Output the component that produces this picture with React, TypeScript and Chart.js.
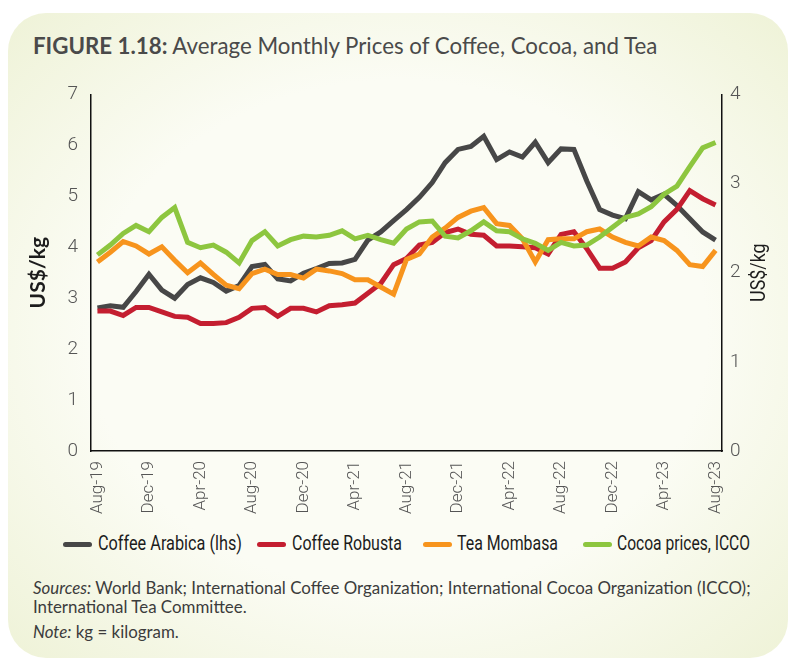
import React, { useEffect, useRef } from "react";
import { Chart, registerables } from "chart.js";

Chart.register(...registerables);

const months = [
  "Aug-19", "Sep-19", "Oct-19", "Nov-19", "Dec-19", "Jan-20", "Feb-20", "Mar-20", "Apr-20", "May-20", "Jun-20", "Jul-20",
  "Aug-20", "Sep-20", "Oct-20", "Nov-20", "Dec-20", "Jan-21", "Feb-21", "Mar-21", "Apr-21", "May-21", "Jun-21", "Jul-21",
  "Aug-21", "Sep-21", "Oct-21", "Nov-21", "Dec-21", "Jan-22", "Feb-22", "Mar-22", "Apr-22", "May-22", "Jun-22", "Jul-22",
  "Aug-22", "Sep-22", "Oct-22", "Nov-22", "Dec-22", "Jan-23", "Feb-23", "Mar-23", "Apr-23", "May-23", "Jun-23", "Jul-23",
  "Aug-23",
];

// Coffee Arabica, left axis (US$/kg)
const arabica = [
  2.81, 2.85, 2.82, 3.13, 3.47, 3.16, 3.0, 3.27, 3.4, 3.31, 3.14, 3.25,
  3.62, 3.66, 3.38, 3.34, 3.49, 3.58, 3.68, 3.69, 3.76, 4.14, 4.3, 4.52,
  4.74, 4.98, 5.27, 5.66, 5.92, 5.98, 6.18, 5.72, 5.87, 5.77, 6.06, 5.66,
  5.93, 5.92, 5.3, 4.74, 4.63, 4.56, 5.09, 4.93, 5.04, 4.82, 4.56, 4.3,
  4.14,
];

// Coffee Robusta, right axis (US$/kg)
const robusta = [
  1.57, 1.57, 1.52, 1.61, 1.61, 1.56, 1.51, 1.5, 1.43, 1.43, 1.44, 1.5,
  1.6, 1.61, 1.51, 1.6, 1.6, 1.56, 1.63, 1.64, 1.66, 1.77, 1.88, 2.09,
  2.16, 2.31, 2.34, 2.45, 2.49, 2.43, 2.42, 2.3, 2.3, 2.29, 2.28, 2.21,
  2.43, 2.46, 2.27, 2.05, 2.05, 2.12, 2.28, 2.36, 2.57, 2.71, 2.92, 2.83,
  2.76,
];

// Tea Mombasa, right axis (US$/kg)
const tea = [
  2.12, 2.23, 2.35, 2.3, 2.21, 2.29, 2.14, 2.0, 2.11, 1.98, 1.86, 1.82,
  1.99, 2.04, 1.98, 1.98, 1.94, 2.04, 2.02, 1.99, 1.92, 1.92, 1.84, 1.76,
  2.15, 2.21, 2.4, 2.5, 2.62, 2.69, 2.73, 2.55, 2.53, 2.38, 2.12, 2.37,
  2.38, 2.38, 2.46, 2.49, 2.4, 2.34, 2.3, 2.4, 2.36, 2.25, 2.09, 2.07,
  2.25,
];

// Cocoa prices, ICCO, right axis (US$/kg)
const cocoa = [
  2.2, 2.31, 2.44, 2.53, 2.46, 2.62, 2.73, 2.34, 2.28, 2.31, 2.23, 2.11,
  2.36, 2.46, 2.3, 2.37, 2.41, 2.4, 2.42, 2.47, 2.38, 2.42, 2.37, 2.33,
  2.49, 2.57, 2.58, 2.41, 2.39, 2.47, 2.57, 2.47, 2.46, 2.38, 2.33, 2.25,
  2.34, 2.3, 2.31, 2.4, 2.51, 2.62, 2.66, 2.74, 2.88, 2.97, 3.19, 3.4,
  3.46,
];

const seriesNames = ["Coffee Arabica (lhs)", "Coffee Robusta", "Tea Mombasa", "Cocoa prices, ICCO"];
const seriesColors = ["#474747", "#c41e30", "#f7941d", "#8dc63f"];
const leftTicks = [0, 1, 2, 3, 4, 5, 6, 7];
const rightTicks = [0, 1, 2, 3, 4];
const axisTitle = "US$/kg";

// legend layout (page pixels)
const legendMarkerX = [63, 257, 423, 583];
const legendTextX = [98, 292, 457, 617];
const legendTextW = [144, 110, 101, 133];

const NARROW = "Roboto, 'Liberation Sans', sans-serif";
const SANS = "Lato, 'Open Sans', sans-serif";
const LEGEND_FONT = `21px Roboto`;

function measure(text: string, font: string): number {
  const c = document.createElement("canvas").getContext("2d");
  if (!c) return 1;
  c.font = font;
  return c.measureText(text).width || 1;
}

const axisTitlesPlugin = {
  id: "axisTitles",
  afterDraw(chart: any) {
    const { ctx, chartArea } = chart;
    const cy = (chartArea.top + chartArea.bottom) / 2;
    ctx.save();
    ctx.fillStyle = "#1c1c1c";
    ctx.textAlign = "center";
    ctx.textBaseline = "middle";
    ctx.font = `bold 21px ${SANS}`;
    ctx.translate(38, cy);
    ctx.rotate(-Math.PI / 2);
    ctx.fillText(axisTitle, 0, 0);
    ctx.restore();
    ctx.save();
    ctx.fillStyle = "#1c1c1c";
    ctx.textAlign = "center";
    ctx.textBaseline = "middle";
    ctx.font = `21px ${NARROW}`;
    ctx.translate(760, cy);
    ctx.rotate(-Math.PI / 2);
    ctx.scale(0.85, 1);
    ctx.fillText(axisTitle, 0, 0);
    ctx.restore();
  },
};

export default function App() {
  const canvasRef = useRef<HTMLCanvasElement | null>(null);

  useEffect(() => {
    document.body.style.margin = "0";
    const canvas = canvasRef.current;
    if (!canvas) return;
    const data = [arabica, robusta, tea, cocoa];
    const axes = ["y", "y2", "y2", "y2"];
    const chart = new Chart(canvas, {
      type: "line",
      data: {
        labels: months,
        datasets: data.map((d, i) => ({
          label: seriesNames[i],
          data: d,
          yAxisID: axes[i],
          borderColor: seriesColors[i],
          backgroundColor: seriesColors[i],
          borderWidth: 5,
          pointRadius: 0,
          tension: 0,
          fill: false,
          order: 4 - i,
        })),
      },
      options: {
        responsive: false,
        animation: false,
        devicePixelRatio: 1,
        layout: { padding: { top: 21, left: 0, right: 0, bottom: 0 } },
        plugins: {
          legend: { display: false },
          tooltip: { enabled: false },
          title: { display: false },
        },
        scales: {
          x: {
            type: "category",
            offset: true,
            grid: { display: false, drawTicks: false },
            border: { display: true, color: "#111", width: 1.5 },
            ticks: {
              autoSkip: false,
              maxRotation: 90,
              minRotation: 90,
              padding: 10,
              color: "#555",
              font: { family: NARROW, size: 17, weight: "300" },
              callback: (_v: any, i: number) => (i % 4 === 0 ? months[i] : ""),
            },
            afterFit: (s: any) => {
              s.height = 74;
            },
          },
          y: {
            position: "left",
            min: leftTicks[0],
            max: leftTicks[leftTicks.length - 1],
            grid: { display: false, drawTicks: false },
            border: { display: true, color: "#111", width: 1.5 },
            ticks: {
              stepSize: 1,
              padding: 13,
              color: "#555",
              font: { family: NARROW, size: 19, weight: "300" },
            },
            afterFit: (s: any) => {
              s.width = 91;
            },
          },
          y2: {
            position: "right",
            min: rightTicks[0],
            max: rightTicks[rightTicks.length - 1],
            grid: { display: false, drawTicks: false },
            border: { display: true, color: "#111", width: 1.5 },
            ticks: {
              stepSize: 1,
              padding: 8,
              color: "#555",
              font: { family: NARROW, size: 19, weight: "300" },
            },
            afterFit: (s: any) => {
              s.width = 69;
            },
          },
        },
      },
      plugins: [axisTitlesPlugin],
    } as any);
    return () => chart.destroy();
  }, []);

  return (
    <div style={{ position: "relative", width: 791, height: 661, background: "#fff", overflow: "hidden" }}>
      <div
        style={{
          position: "absolute",
          left: 8,
          top: 13,
          width: 780,
          height: 645,
          borderRadius: 38,
          background: "radial-gradient(ellipse 72% 72% at 50% 50%, #fbfcf4 55%, #eef2d6 100%)",
        }}
      />
      <div
        style={{
          position: "absolute",
          left: 33,
          top: 32,
          fontFamily: SANS,
          fontSize: 22.3,
          lineHeight: "28px",
          color: "#4a4a4a",
          whiteSpace: "nowrap",
        }}
      >
        <b>FIGURE 1.18:</b> Average Monthly Prices of Coffee, Cocoa, and Tea
      </div>
      <canvas
        ref={canvasRef}
        width={791}
        height={455}
        style={{ position: "absolute", left: 0, top: 70, width: 791, height: 455 }}
      />
      {seriesNames.map((n, i) => (
        <React.Fragment key={n}>
          <span
            style={{
              position: "absolute",
              left: legendMarkerX[i],
              top: 542,
              width: 29,
              height: 5,
              borderRadius: 3,
              background: seriesColors[i],
            }}
          />
          <span
            style={{
              position: "absolute",
              left: legendTextX[i],
              top: 531,
              height: 26,
              lineHeight: "26px",
              font: LEGEND_FONT,
              color: "#1c1c1c",
              whiteSpace: "nowrap",
              transformOrigin: "0 50%",
              transform: `scaleX(${legendTextW[i] / measure(n, LEGEND_FONT)})`,
            }}
          >
            {n}
          </span>
        </React.Fragment>
      ))}
      <div
        style={{
          position: "absolute",
          left: 33,
          top: 578,
          width: 760,
          fontFamily: SANS,
          fontSize: 16.9,
          lineHeight: "19px",
          color: "#3c3c3c",
          whiteSpace: "nowrap",
        }}
      >
        <i>Sources:</i> World Bank; International Coffee Organization; International Cocoa Organization (ICCO);
        <br />
        International Tea Committee.
      </div>
      <div
        style={{
          position: "absolute",
          left: 33,
          top: 621,
          fontFamily: SANS,
          fontSize: 16.9,
          lineHeight: "22px",
          color: "#3c3c3c",
        }}
      >
        <i>Note:</i> kg = kilogram.
      </div>
    </div>
  );
}
